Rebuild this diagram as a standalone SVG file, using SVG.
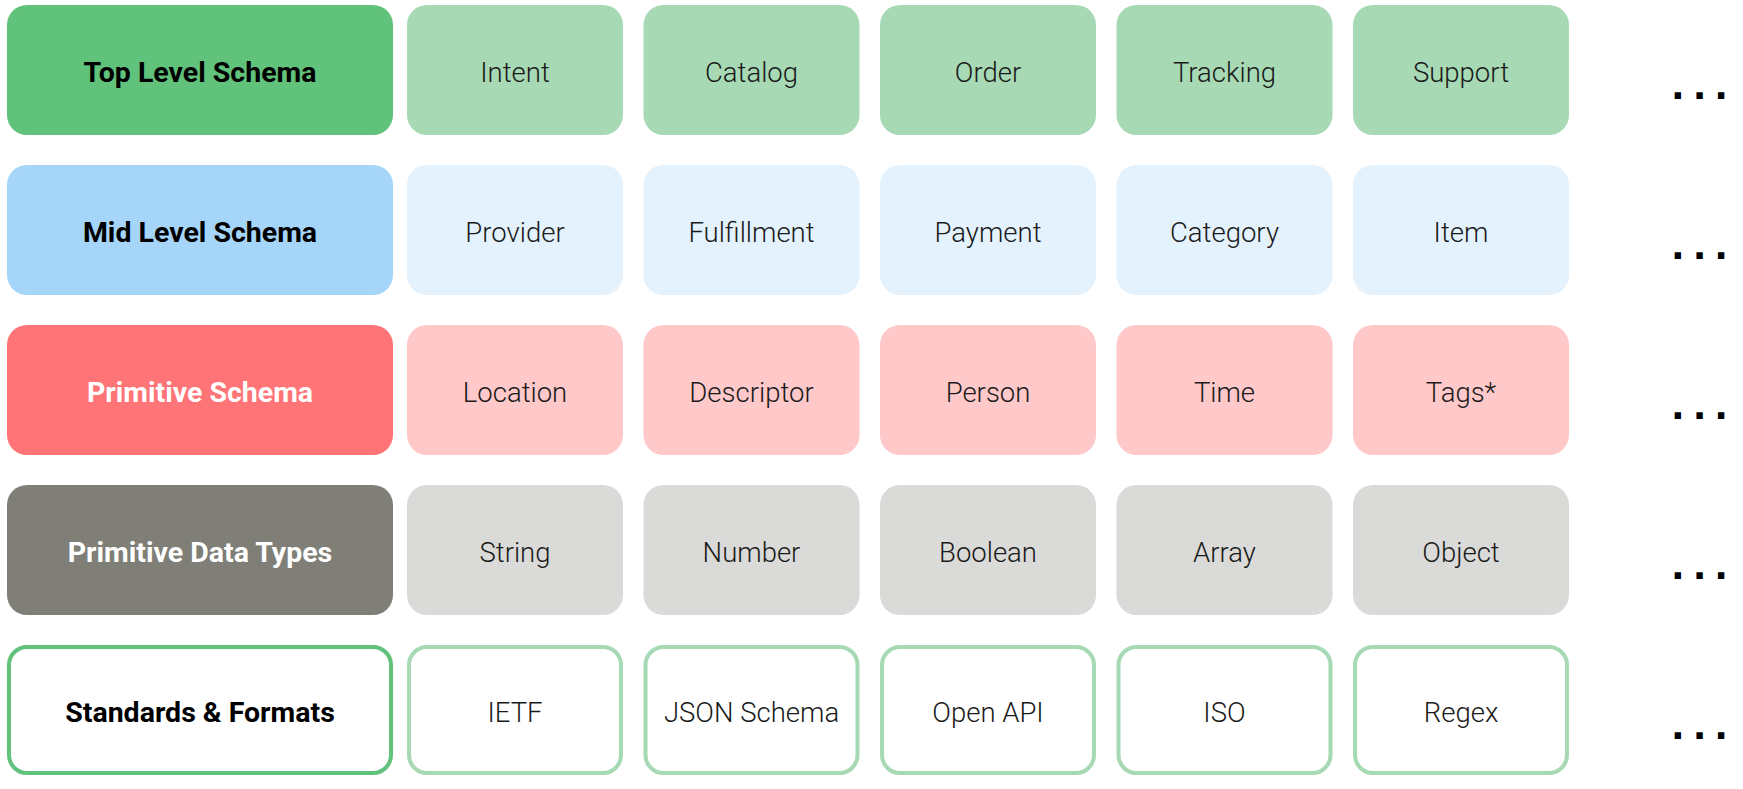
<svg xmlns="http://www.w3.org/2000/svg" width="1743" height="789" viewBox="0 0 1743 789">
  <style>
    .box { stroke: none; }
    .hdr { font-family: Roboto, "Liberation Sans", sans-serif; font-size: 28.5px; font-weight: 700; text-anchor: middle; }
    .lbl { font-family: Roboto, "Liberation Sans", sans-serif; font-size: 27.5px; font-weight: 300; fill: #1a1a1a; text-anchor: middle; }
    .more { font-family: "DejaVu Sans", sans-serif; font-size: 36px; font-weight: 700; fill: #000; letter-spacing: 8px; }
    .dark { fill: #000; }
    .light { fill: #fff; }
    .g1 { fill: #61c27b; }
    .g2 { fill: #a6d9b4; }
    .b1 { fill: #a5d5f8; }
    .b2 { fill: #e3f2fd; }
    .r1 { fill: #ff7477; }
    .r2 { fill: #ffc8c9; }
    .k1 { fill: #807f77; }
    .k2 { fill: #dadad8; }
    .o1 { fill: #fff; stroke: #61c27b; stroke-width: 4; }
    .o2 { fill: #fff; stroke: #a6d9b4; stroke-width: 4; }
  </style>

  <!-- Row 1: top level schema -->
  <g id="row-top">
    <g id="top-header"><rect class="box g1" x="7" y="5" width="386" height="130" rx="20"/><text class="hdr dark" x="200" y="82">Top Level Schema</text></g>
    <g id="top-intent"><rect class="box g2" x="407" y="5" width="216" height="130" rx="20"/><text class="lbl" x="515" y="82">Intent</text></g>
    <g id="top-catalog"><rect class="box g2" x="643.5" y="5" width="216" height="130" rx="20"/><text class="lbl" x="751.5" y="82">Catalog</text></g>
    <g id="top-order"><rect class="box g2" x="880" y="5" width="216" height="130" rx="20"/><text class="lbl" x="988" y="82">Order</text></g>
    <g id="top-tracking"><rect class="box g2" x="1116.5" y="5" width="216" height="130" rx="20"/><text class="lbl" x="1224.5" y="82">Tracking</text></g>
    <g id="top-support"><rect class="box g2" x="1353" y="5" width="216" height="130" rx="20"/><text class="lbl" x="1461" y="82">Support</text></g>
    <text class="more" x="1671" y="99">...</text>
  </g>

  <!-- Row 2: mid level schema -->
  <g id="row-mid">
    <g id="mid-header"><rect class="box b1" x="7" y="165" width="386" height="130" rx="20"/><text class="hdr dark" x="200" y="242">Mid Level Schema</text></g>
    <g id="mid-provider"><rect class="box b2" x="407" y="165" width="216" height="130" rx="20"/><text class="lbl" x="515" y="242">Provider</text></g>
    <g id="mid-fulfillment"><rect class="box b2" x="643.5" y="165" width="216" height="130" rx="20"/><text class="lbl" x="751.5" y="242">Fulfillment</text></g>
    <g id="mid-payment"><rect class="box b2" x="880" y="165" width="216" height="130" rx="20"/><text class="lbl" x="988" y="242">Payment</text></g>
    <g id="mid-category"><rect class="box b2" x="1116.5" y="165" width="216" height="130" rx="20"/><text class="lbl" x="1224.5" y="242">Category</text></g>
    <g id="mid-item"><rect class="box b2" x="1353" y="165" width="216" height="130" rx="20"/><text class="lbl" x="1461" y="242">Item</text></g>
    <text class="more" x="1671" y="259">...</text>
  </g>

  <!-- Row 3: primitive schema -->
  <g id="row-prim">
    <g id="prim-header"><rect class="box r1" x="7" y="325" width="386" height="130" rx="20"/><text class="hdr light" x="200" y="402">Primitive Schema</text></g>
    <g id="prim-location"><rect class="box r2" x="407" y="325" width="216" height="130" rx="20"/><text class="lbl" x="515" y="402">Location</text></g>
    <g id="prim-descriptor"><rect class="box r2" x="643.5" y="325" width="216" height="130" rx="20"/><text class="lbl" x="751.5" y="402">Descriptor</text></g>
    <g id="prim-person"><rect class="box r2" x="880" y="325" width="216" height="130" rx="20"/><text class="lbl" x="988" y="402">Person</text></g>
    <g id="prim-time"><rect class="box r2" x="1116.5" y="325" width="216" height="130" rx="20"/><text class="lbl" x="1224.5" y="402">Time</text></g>
    <g id="prim-tags"><rect class="box r2" x="1353" y="325" width="216" height="130" rx="20"/><text class="lbl" x="1461" y="402">Tags*</text></g>
    <text class="more" x="1671" y="419">...</text>
  </g>

  <!-- Row 4: primitive data types -->
  <g id="row-types">
    <g id="types-header"><rect class="box k1" x="7" y="485" width="386" height="130" rx="20"/><text class="hdr light" x="200" y="562">Primitive Data Types</text></g>
    <g id="types-string"><rect class="box k2" x="407" y="485" width="216" height="130" rx="20"/><text class="lbl" x="515" y="562">String</text></g>
    <g id="types-number"><rect class="box k2" x="643.5" y="485" width="216" height="130" rx="20"/><text class="lbl" x="751.5" y="562">Number</text></g>
    <g id="types-boolean"><rect class="box k2" x="880" y="485" width="216" height="130" rx="20"/><text class="lbl" x="988" y="562">Boolean</text></g>
    <g id="types-array"><rect class="box k2" x="1116.5" y="485" width="216" height="130" rx="20"/><text class="lbl" x="1224.5" y="562">Array</text></g>
    <g id="types-object"><rect class="box k2" x="1353" y="485" width="216" height="130" rx="20"/><text class="lbl" x="1461" y="562">Object</text></g>
    <text class="more" x="1671" y="579">...</text>
  </g>

  <!-- Row 5: standards and formats (outlined) -->
  <g id="row-std">
    <g id="std-header"><rect class="o1" x="9" y="647" width="382" height="126" rx="18"/><text class="hdr dark" x="200" y="722">Standards &amp; Formats</text></g>
    <g id="std-ietf"><rect class="o2" x="409" y="647" width="212" height="126" rx="18"/><text class="lbl" x="515" y="722">IETF</text></g>
    <g id="std-jsonschema"><rect class="o2" x="645.5" y="647" width="212" height="126" rx="18"/><text class="lbl" x="751.5" y="722">JSON Schema</text></g>
    <g id="std-openapi"><rect class="o2" x="882" y="647" width="212" height="126" rx="18"/><text class="lbl" x="988" y="722">Open API</text></g>
    <g id="std-iso"><rect class="o2" x="1118.5" y="647" width="212" height="126" rx="18"/><text class="lbl" x="1224.5" y="722">ISO</text></g>
    <g id="std-regex"><rect class="o2" x="1355" y="647" width="212" height="126" rx="18"/><text class="lbl" x="1461" y="722">Regex</text></g>
    <text class="more" x="1671" y="739">...</text>
  </g>

  <!-- no connectors in this layered chart -->
  <g id="connectors"/>
</svg>
